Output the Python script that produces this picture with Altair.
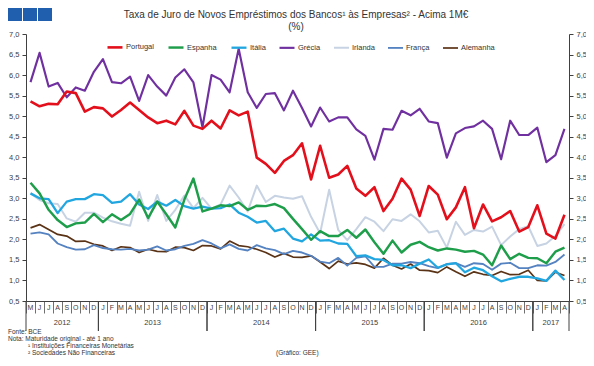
import altair as alt
import pandas as pd

# ---------------- data ----------------
months = ["M", "J", "J", "A", "S", "O", "N", "D"] + \
         ["J", "F", "M", "A", "M", "J", "J", "A", "S", "O", "N", "D"] * 4 + \
         ["J", "F", "M", "A"]
years = [2012] * 8 + [2013] * 12 + [2014] * 12 + [2015] * 12 + [2016] * 12 + [2017] * 4

portugal = [5.36, 5.24, 5.30, 5.29, 5.60, 5.56, 5.11, 5.22, 5.19, 4.99,
            5.15, 5.33, 5.15, 4.97, 4.83, 4.89, 4.80, 5.13, 4.77, 4.69,
            4.89, 4.70, 5.14, 5.02, 5.11, 3.99, 3.84, 3.62, 3.91, 4.05,
            4.34, 3.46, 4.28, 3.50, 3.58, 3.79, 3.24, 3.06, 3.27, 2.69,
            2.99, 3.48, 3.21, 2.57, 3.30, 3.09, 2.49, 2.78, 3.27, 2.27,
            2.85, 2.44, 2.54, 2.69, 2.19, 2.30, 2.83, 2.14, 2.02, 2.60]
espanha = [3.38, 3.12, 2.72, 2.47, 2.30, 2.39, 2.41, 2.62, 2.42, 2.61,
           2.47, 2.62, 2.97, 2.52, 2.92, 2.61, 2.29, 2.97, 3.48, 2.68,
           2.75, 2.83, 2.81, 2.90, 2.72, 2.82, 2.81, 2.86, 2.76, 2.50,
           2.25, 1.99, 2.20, 2.08, 2.08, 2.23, 2.04, 2.24, 1.93, 1.65,
           1.97, 1.68, 1.87, 1.94, 1.81, 1.73, 1.78, 1.75, 1.70, 1.72,
           1.63, 1.37, 1.85, 1.52, 1.65, 1.55, 1.54, 1.42, 1.70, 1.80]
italia = [3.12, 3.00, 2.98, 2.64, 2.92, 2.98, 2.98, 3.10, 3.08, 2.89,
          2.92, 3.10, 2.85, 2.74, 2.92, 2.82, 2.96, 2.81, 2.75, 2.80,
          2.75, 2.76, 2.85, 2.65, 2.55, 2.41, 2.45, 2.20, 2.26, 2.02,
          1.95, 2.12, 1.97, 1.98, 1.90, 1.89, 1.59, 1.61, 1.52, 1.50,
          1.37, 1.37, 1.30, 1.41, 1.51, 1.31, 1.39, 1.42, 1.20, 1.31,
          1.25, 1.10, 0.98, 1.04, 1.09, 1.09, 1.05, 0.99, 1.24, 1.01]
grecia = [5.83, 6.54, 5.72, 5.81, 5.46, 5.70, 5.62, 6.08, 6.39, 5.83,
          5.80, 5.96, 5.37, 6.00, 5.72, 5.50, 5.94, 6.14, 5.82, 4.73,
          6.00, 5.89, 5.58, 6.64, 5.58, 5.20, 5.54, 5.56, 5.14, 5.62,
          5.20, 4.75, 5.21, 4.87, 4.97, 4.97, 4.68, 4.52, 3.94, 4.69,
          4.67, 5.13, 5.02, 5.18, 4.87, 4.83, 3.99, 4.58, 4.71, 4.75,
          4.89, 4.69, 3.95, 4.89, 4.54, 4.54, 4.72, 3.88, 4.05, 4.69]
irlanda = [3.12, 2.96, 2.88, 2.86, 2.51, 2.43, 2.65, 2.65, 2.53, 2.44,
           2.38, 2.33, 3.16, 2.45, 3.08, 2.45, 2.72, 3.07, 2.76, 3.01,
           2.75, 2.85, 3.31, 3.02, 2.68, 3.31, 2.91, 3.06, 3.02, 2.99,
           3.05, 2.55, 2.15, 3.21, 2.23, 1.98, 2.25, 2.54, 2.43, 2.20,
           2.49, 2.45, 2.61, 2.44, 2.17, 2.21, 1.80, 2.43, 2.11, 2.23,
           2.19, 2.31, 1.86, 2.07, 2.25, 2.32, 1.84, 1.90, 2.08, 2.37]
franca = [2.14, 2.17, 2.12, 1.90, 1.81, 1.75, 1.76, 1.86, 1.79, 1.76,
          1.75, 1.77, 1.73, 1.75, 1.83, 1.73, 1.76, 1.84, 1.89, 1.98,
          1.90, 1.78, 1.88, 1.77, 1.73, 1.86, 1.78, 1.74, 1.64, 1.72,
          1.68, 1.60, 1.46, 1.42, 1.55, 1.36, 1.55, 1.59, 1.33, 1.33,
          1.41, 1.41, 1.45, 1.42, 1.35, 1.30, 1.40, 1.42, 1.33, 1.42,
          1.40, 1.26, 1.41, 1.43, 1.30, 1.30, 1.37, 1.36, 1.45, 1.63]
alemanha = [2.28, 2.36, 2.24, 2.12, 2.08, 1.95, 1.96, 1.88, 1.84, 1.73,
            1.82, 1.80, 1.68, 1.76, 1.71, 1.70, 1.81, 1.80, 1.73, 1.85,
            1.84, 1.77, 1.96, 1.85, 1.82, 1.76, 1.68, 1.57, 1.66, 1.57,
            1.56, 1.60, 1.45, 1.29, 1.47, 1.40, 1.43, 1.39, 1.30, 1.54,
            1.37, 1.28, 1.40, 1.25, 1.24, 1.19, 1.33, 1.21, 1.10, 1.21,
            1.15, 1.12, 1.22, 1.14, 1.15, 1.25, 1.00, 0.99, 1.20, 1.12]

series_names = ["Portugal", "Espanha", "Itália", "Grécia", "Irlanda", "França", "Alemanha"]
series_colors = ["#e3101c", "#1e9e4a", "#22a6e0", "#7030a0", "#c7d3e3", "#5582c0", "#5a3316"]
series_widths = [2.6, 1.7, 1.7, 1.7, 2.2, 1.7, 1.7]
draw_order = ["Irlanda", "Alemanha", "França", "Itália", "Espanha", "Grécia", "Portugal"]

y_ticks = [0.5, 1.0, 1.5, 2.0, 2.5, 3.0, 3.5, 4.0, 4.5, 5.0, 5.5, 6.0, 6.5, 7.0]

title_line1 = "Taxa de Juro de Novos Empréstimos dos Bancos¹ às Empresas² - Acima 1M€"
title_line2 = "(%)"
notes = ["Fonte: BCE", "Nota: Maturidade original - até 1 ano"]
notes_indent = ["¹ Instituições Financeiras Monetárias", "² Sociedades Não Financeiras"]
credit = "(Gráfico:  GEE)"

df = pd.DataFrame({
    "idx": list(range(len(months))), "mes": months, "ano": years,
    "Portugal": portugal, "Espanha": espanha, "Itália": italia, "Grécia": grecia,
    "Irlanda": irlanda, "França": franca, "Alemanha": alemanha,
})

# ---------------- layout ----------------
W, H = 543, 267
FONT = "Liberation Sans"
AX = "#404040"

xscale = alt.Scale(domain=[-0.5, len(months) - 0.5], nice=False, zero=False)
xaxis = alt.Axis(orient="bottom", values=[i - 0.5 for i in range(len(months) + 1)],
                 labels=False, tickSize=12, title=None, grid=False,
                 domainColor=AX, tickColor="#707070", tickWidth=1)


def xenc(field):
    return alt.X(f"{field}:Q", scale=xscale, axis=xaxis, title=None)


yscale = alt.Scale(domain=[0.5, 7.0], nice=False, zero=False)
lab = "replace(format(datum.value, '.1f'), '.', ',')"
yaxis_left = alt.Axis(orient="left", values=y_ticks, labelExpr=lab, tickSize=4, labelPadding=3,
                      grid=False, title=None, domainColor=AX, tickColor=AX, labelColor=AX,
                      labelFontSize=7.5, labelFont=FONT)
yaxis_right = alt.Axis(orient="right", values=y_ticks, labelExpr=lab, tickSize=4, labelPadding=3,
                       grid=False, title=None, domainColor=AX, tickColor=AX, labelColor=AX,
                       labelFontSize=7.5, labelFont=FONT)

folded = alt.Chart(df).transform_fold(draw_order, as_=["serie", "taxa"])

lines = folded.mark_line(strokeJoin="round").encode(
    x=xenc("idx"),
    y=alt.Y("taxa:Q", scale=yscale, axis=yaxis_left),
    color=alt.Color("serie:N", scale=alt.Scale(domain=series_names, range=series_colors),
                    legend=alt.Legend(orient="none", legendX=80, legendY=4, direction="horizontal",
                                      title=None, symbolType="stroke", symbolSize=225,
                                      symbolStrokeWidth=2.5, labelFontSize=7.5, labelFont=FONT,
                                      labelColor="#333333", columnPadding=9, labelOffset=2)),
    strokeWidth=alt.StrokeWidth("serie:N", scale=alt.Scale(domain=series_names, range=series_widths),
                                legend=None),
)

right_axis = folded.mark_line(opacity=0).encode(
    x=xenc("idx"),
    y=alt.Y("taxa:Q", scale=yscale, axis=yaxis_right),
    detail="serie:N",
)

month_text = alt.Chart(df).mark_text(fontSize=7, font=FONT, color=AX, baseline="middle").encode(
    x=xenc("idx"), y=alt.value(H + 7), text="mes:N")

years_base = alt.Chart(df).transform_aggregate(
    lo="min(idx)", hi="max(idx)", groupby=["ano"]
).transform_calculate(
    start="datum.lo - 0.5", end="datum.hi + 0.5", mid="(datum.lo + datum.hi) / 2"
)
year_rule_start = years_base.mark_rule(color=AX, strokeWidth=1).encode(
    x=xenc("start"), y=alt.value(H), y2=alt.value(H + 30))
year_rule_end = years_base.mark_rule(color=AX, strokeWidth=1).encode(
    x=xenc("end"), y=alt.value(H), y2=alt.value(H + 30))
year_text = years_base.mark_text(fontSize=7.5, font=FONT, color=AX, baseline="middle").encode(
    x=xenc("mid"), y=alt.value(H + 22), text="ano:N")


def label(txt, x, y, size, align="left", color="#333333"):
    return alt.Chart(pd.DataFrame({"t": [txt]})).mark_text(
        fontSize=size, font=FONT, align=align, baseline="middle", color=color
    ).encode(text="t:N", x=alt.value(x), y=alt.value(y))


title1 = label(title_line1, 270, -19, 10, "center")
title2 = label(title_line2, 270, -7, 10, "center")
foot = [
    label(notes[0], -18, H + 31, 6.5),
    label(notes[1], -18, H + 38, 6.5),
    label(notes_indent[0], 2, H + 45, 6.5),
    label(notes_indent[1], 2, H + 52, 6.5),
    label(credit, 250, H + 52, 6.5),
]

squares = []
for k in range(3):
    squares.append(
        alt.Chart(pd.DataFrame({"a": [0]})).mark_rect(color="#1f5fae").encode(
            x=alt.value(-18 + 15 * k), x2=alt.value(-18 + 15 * k + 14),
            y=alt.value(-26), y2=alt.value(-13))
    )

chart = alt.layer(
    lines, right_axis, month_text, year_rule_start, year_rule_end, year_text,
    title1, title2, *foot, *squares
).resolve_axis(y="independent").properties(
    width=W, height=H,
    autosize=alt.AutoSizeParams(type="none"),
    padding={"left": 18, "top": 26, "right": 17, "bottom": 56},
    background="white",
).configure_view(stroke=None)

chart.save("out.html", embed_options={"renderer": "svg", "actions": False})
